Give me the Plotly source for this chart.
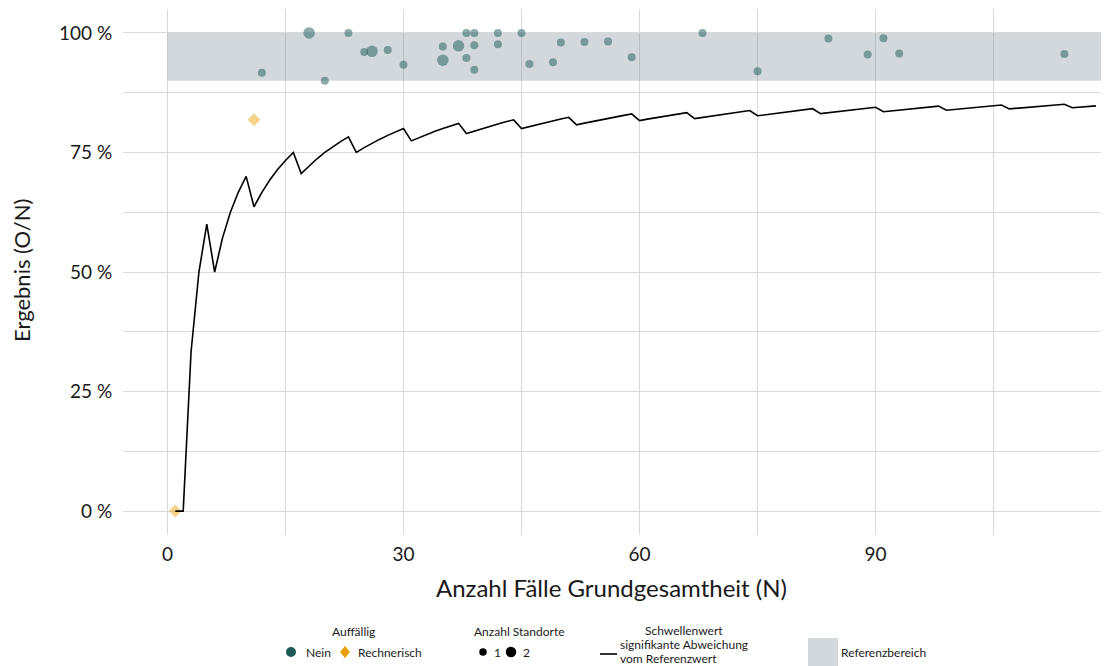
import plotly.graph_objects as go

# ---------------- data ----------------
# threshold line (Schwellenwert signifikante Abweichung), N and value in %
thr_n = list(range(1, 119))
thr_pct = [0, 0, 33.33, 50, 60, 50, 57.14, 62.5, 66.67, 70,
           63.64, 66.67, 69.23, 71.43, 73.33, 75, 70.59, 72.22, 73.68, 75,
           76.19, 77.27, 78.26, 75, 76, 76.92, 77.78, 78.57, 79.31, 80,
           77.42, 78.13, 78.79, 79.41, 80, 80.56, 81.08, 78.95, 79.49, 80,
           80.49, 80.95, 81.40, 81.82, 80, 80.43, 80.85, 81.25, 81.63, 82,
           82.35, 80.77, 81.13, 81.48, 81.82, 82.14, 82.46, 82.76, 83.05, 81.67,
           81.97, 82.26, 82.54, 82.81, 83.08, 83.33, 82.09, 82.35, 82.61, 82.86,
           83.10, 83.33, 83.56, 83.78, 82.67, 82.89, 83.12, 83.33, 83.54, 83.75,
           83.95, 84.15, 83.13, 83.33, 83.53, 83.72, 83.91, 84.09, 84.27, 84.44,
           83.52, 83.70, 83.87, 84.04, 84.21, 84.38, 84.54, 84.69, 83.84, 84,
           84.16, 84.31, 84.47, 84.62, 84.76, 84.91, 84.11, 84.26, 84.40, 84.55,
           84.68, 84.82, 84.96, 85.09, 84.35, 84.48, 84.62, 84.75]

# hospitals, Auffällig = Nein
nein_n = [12, 18, 20, 23, 25, 26, 28, 30, 35, 35, 37, 38, 38, 39, 39, 39,
          42, 42, 45, 46, 49, 50, 53, 56, 59, 68, 75, 84, 89, 91, 93, 114]
nein_pct = [91.67, 100, 90, 100, 96, 96.15, 96.43, 93.33, 97.14, 94.29, 97.3,
            100, 94.74, 100, 97.44, 92.31, 100, 97.62, 100, 93.48, 93.88, 98,
            98.11, 98.21, 94.92, 100, 92, 98.81, 95.51, 98.9, 95.7, 95.61]
nein_standorte = [1, 2, 1, 1, 1, 2, 1, 1, 1, 2, 2, 1, 1, 1, 1, 1,
                  1, 1, 1, 1, 1, 1, 1, 1, 1, 1, 1, 1, 1, 1, 1, 1]

# hospitals, Auffällig = Rechnerisch
rech_n = [1, 11]
rech_pct = [0, 81.82]
rech_standorte = [1, 1]

ref_low, ref_high = 90, 100
x_ticks = [0, 30, 60, 90]
y_ticks = [0, 25, 50, 75, 100]

# ---------------- styling ----------------
FONT = "Lato"
TEAL = "#1d5a58"
ORANGE = "#e69f00"
GRID = "#d9d9d9"
TXT = "#1a1a1a"
size_map = {1: 8, 2: 11.5}

W, H = 1104, 666
ML, MR, MT, MB = 123, 3, 9, 131
PW, PH = W - ML - MR, H - MT - MB


def px(x):
    return (x - ML) / PW


def py(y):
    return (H - MB - y) / PH


fig = go.Figure()

fig.add_trace(go.Scatter(
    x=nein_n, y=nein_pct, mode="markers",
    marker=dict(color=TEAL, opacity=0.5, size=[size_map[s] for s in nein_standorte],
                line=dict(width=0)),
    showlegend=False, hoverinfo="x+y"))

fig.add_trace(go.Scatter(
    x=rech_n, y=rech_pct, mode="markers",
    marker=dict(color=ORANGE, opacity=0.45, symbol="diamond",
                size=[size_map[s] + 2 for s in rech_standorte], line=dict(width=0)),
    showlegend=False, hoverinfo="x+y"))

fig.add_trace(go.Scatter(
    x=thr_n, y=thr_pct, mode="lines",
    line=dict(color="black", width=1.6),
    showlegend=False, hoverinfo="x+y"))

# reference band
fig.add_shape(type="rect", xref="x", yref="y", x0=0, x1=118.65,
              y0=ref_low, y1=ref_high, layer="between",
              fillcolor="rgba(110,128,142,0.31)", line=dict(width=0))

fig.update_xaxes(
    range=[-5.65, 118.65], tickvals=x_ticks, ticktext=[str(v) for v in x_ticks],
    showgrid=True, gridcolor=GRID, gridwidth=1.4, zeroline=False,
    minor=dict(tickvals=[15, 45, 75, 105], showgrid=True, gridcolor=GRID, gridwidth=1.2),
    ticks="outside", ticklen=2, tickcolor="rgba(0,0,0,0)",
    tickfont=dict(family=FONT, size=19, color=TXT),
    automargin=False, showline=False)

fig.update_yaxes(
    range=[-5, 105], tickvals=y_ticks, ticktext=[f"{v} %" for v in y_ticks],
    showgrid=True, gridcolor=GRID, gridwidth=1.4, zeroline=False,
    minor=dict(tickvals=[12.5, 37.5, 62.5, 87.5], showgrid=True, gridcolor=GRID, gridwidth=1.2),
    ticks="outside", ticklen=6, tickcolor="rgba(0,0,0,0)",
    tickfont=dict(family=FONT, size=19, color=TXT),
    automargin=False, showline=False)

# ---------------- axis titles & manual legend ----------------
ann = []
LF = dict(family=FONT, size=12, color=TXT)

ann.append(dict(x=px(611), y=py(587), xref="paper", yref="paper",
                text="Anzahl Fälle Grundgesamtheit (N)", showarrow=False,
                xanchor="center", yanchor="middle",
                font=dict(family=FONT, size=24, color=TXT)))
ann.append(dict(x=px(21), y=py(271), xref="paper", yref="paper",
                text="Ergebnis (O/N)", showarrow=False, textangle=-90,
                xanchor="center", yanchor="middle",
                font=dict(family=FONT, size=22, color=TXT)))


def text(x, y, s, anchor="left"):
    ann.append(dict(x=px(x), y=py(y), xref="paper", yref="paper", text=s,
                    showarrow=False, xanchor=anchor, yanchor="middle", font=LF))


text(353, 631, "Auffällig", "center")
text(304, 652, "Nein")
text(356, 652, "Rechnerisch")
text(519, 631, "Anzahl Standorte", "center")
text(492, 652, "1")
text(521, 652, "2")
text(684, 630, "Schwellenwert", "center")
text(618, 644, "signifikante Abweichung")
text(618, 658, "vom Referenzwert")
text(839, 652, "Referenzbereich")


def circle(x, y, d, color):
    fig.add_shape(type="circle", xref="paper", yref="paper",
                  xsizemode="pixel", ysizemode="pixel", xanchor=px(x), yanchor=py(y),
                  x0=-d / 2, x1=d / 2, y0=-d / 2, y1=d / 2,
                  fillcolor=color, line=dict(width=0))


circle(291, 652, 10, TEAL)
circle(483, 652, 7.5, "black")
circle(511, 652, 10.5, "black")
fig.add_shape(type="path", xref="paper", yref="paper",
              xsizemode="pixel", ysizemode="pixel", xanchor=px(345), yanchor=py(652),
              path="M 0 6 L 5 0 L 0 -6 L -5 0 Z", fillcolor=ORANGE, line=dict(width=0))
fig.add_shape(type="line", xref="paper", yref="paper",
              x0=px(600), x1=px(617), y0=py(654), y1=py(654),
              line=dict(color="black", width=1.6))
fig.add_shape(type="rect", xref="paper", yref="paper",
              x0=px(808), x1=px(838), y0=py(666), y1=py(638),
              fillcolor="#d3d8dc", line=dict(width=0))

fig.update_layout(
    width=W, height=H, margin=dict(l=ML, r=MR, t=MT, b=MB, autoexpand=False),
    plot_bgcolor="white", paper_bgcolor="white",
    annotations=ann, showlegend=False,
    font=dict(family=FONT))

fig.write_html("out.html", config={"displayModeBar": False},
               post_script="document.body.style.margin='0';document.body.style.overflow='hidden';")
